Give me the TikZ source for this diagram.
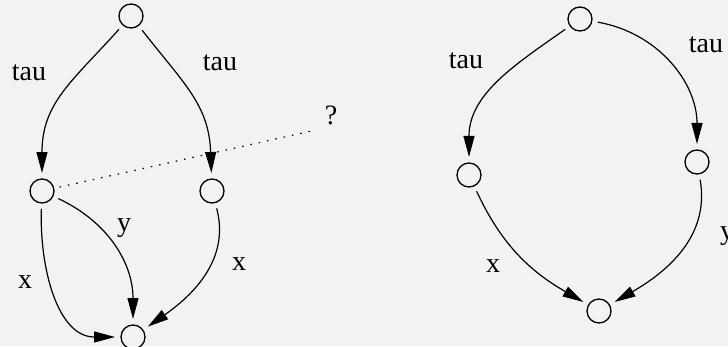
\documentclass[tikz,border=0pt]{standalone}
\usepackage{fontspec}
\setmainfont{Liberation Serif}
\usetikzlibrary{arrows.meta}
\begin{document}
\begin{tikzpicture}[x=1pt,y=1pt,
  st/.style={circle,draw,line width=1.3pt,minimum size=24pt,inner sep=0pt,outer sep=6pt},
  arr/.style={line width=1.2pt,-{Triangle[length=21pt,width=11pt]}},
  lab/.style={font=\fontsize{28}{30}\selectfont,anchor=base,inner sep=0pt}]
\fill[fill={rgb,255:red,242;green,242;blue,242}] (0,0) rectangle (728,346);
\useasboundingbox (0,0) rectangle (728,346);
% left graph
\node[st] (A) at (131,330) {};
\node[st] (B) at (42,155) {};
\node[st] (C) at (212,155) {};
\node[st] (D) at (133,9) {};
\coordinate (q) at (316,216);
\draw[arr] (A) to[out=228,in=90,looseness=1.1] (B);
\draw[arr] (A) to[out=308,in=92,looseness=1.1] (C);
\draw[line width=1.2pt,dash pattern=on 1.5pt off 7pt] (B) -- (q);
\draw[arr] (B) to[out=268,in=180] (D);
\draw[arr] (B) to[out=335,in=90] (D);
\draw[arr] (C) to[out=285,in=35] (D);
\node[lab] (l1) at (29,265) {tau};
\node[lab] (l2) at (220,275) {tau};
\node[lab] (l3) at (331,222) {?};
\node[lab] (l4) at (124,115) {y};
\node[lab] (l5) at (25,58) {x};
\node[lab] (l6) at (239,76) {x};
% right graph
\node[st] (E) at (580,327) {};
\node[st] (F) at (469,171) {};
\node[st] (G) at (697,184) {};
\node[st] (H) at (599,35) {};
\draw[arr] (E) to[out=215,in=90] (F);
\draw[arr] (E) to[out=-10,in=90] (G);
\draw[arr] (F) to[out=295,in=150] (H);
\draw[arr] (G) to[out=280,in=30] (H);
\node[lab] (l7) at (466,277) {tau};
\node[lab] (l8) at (706,293) {tau};
\node[lab] (l9) at (493,74) {x};
\node[lab] (l10) at (727,107) {y};
\end{tikzpicture}
\end{document}
